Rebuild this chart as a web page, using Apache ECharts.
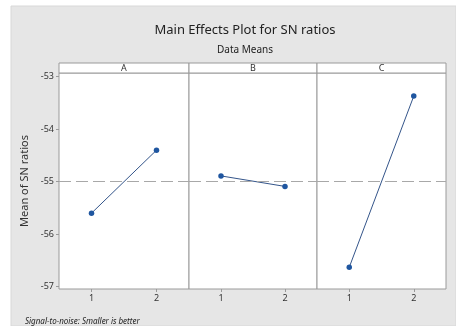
<!DOCTYPE html>
<html>
<head>
<meta charset="utf-8">
<script src="https://cdn.jsdelivr.net/npm/echarts@6/dist/echarts.min.js"></script>
<style>html,body{margin:0;padding:0;background:#fff;}#c{width:456px;height:326px;}</style>
</head>
<body>
<div id="c"></div>
<script>
const factors = ['A', 'B', 'C'];
const levels = ['1', '2'];
const snA = [-55.60, -54.40];
const snB = [-54.89, -55.09];
const snC = [-56.63, -53.37];
const grandMean = -55.0;
const yTicks = [-57, -56, -55, -54, -53];
const yRange = [-57.044, -52.93];

const seriesValues = [snA, snB, snC];
const FONT = 'Noto Sans';
const panels = [
  { left: 59, width: 130 },
  { left: 189, width: 128 },
  { left: 317, width: 129 }
];
const plotTop = 73, plotHeight = 216, headTop = 63, headHeight = 10;

const grid = [], xAxis = [], yAxis = [], series = [];
panels.forEach((p, i) => {
  grid.push({ left: p.left, width: p.width, top: plotTop, height: plotHeight, show: true,
    backgroundColor: '#fff', borderColor: '#9a9a9a', borderWidth: 1 });
});
panels.forEach((p, i) => {
  grid.push({ left: p.left, width: p.width, top: headTop, height: headHeight, show: true,
    backgroundColor: '#fff', borderColor: '#9a9a9a', borderWidth: 1 });
});
panels.forEach((p, i) => {
  xAxis.push({ type: 'category', gridIndex: i, data: levels, boundaryGap: true,
    axisLine: { show: false },
    axisTick: { show: true, alignWithLabel: true, length: 3, lineStyle: { color: '#9a9a9a' } },
    axisLabel: { color: '#333', fontFamily: FONT, fontSize: 9, margin: 5 },
    splitLine: { show: false } });
  yAxis.push({ type: 'value', gridIndex: i, min: yRange[0], max: yRange[1],
    name: i === 0 ? 'Mean of SN ratios' : '', nameLocation: 'middle', nameGap: 29,
    nameTextStyle: { color: '#333', fontFamily: FONT, fontSize: 11 },
    axisLine: { show: false },
    axisTick: { show: i === 0, length: 3, customValues: yTicks, lineStyle: { color: '#9a9a9a' } },
    axisLabel: { show: i === 0, customValues: yTicks, color: '#333', fontFamily: FONT, fontSize: 9, margin: 5 },
    splitLine: { show: false } });
});
factors.forEach((f, i) => {
  xAxis.push({ type: 'category', gridIndex: 3 + i, data: [f], position: 'top',
    axisLine: { show: false }, axisTick: { show: false },
    axisLabel: { inside: true, margin: 5, verticalAlign: 'middle', color: '#333', fontFamily: FONT, fontSize: 9 } });
  yAxis.push({ type: 'value', gridIndex: 3 + i, show: false });
});
seriesValues.forEach((vals, i) => {
  series.push({ type: 'line', xAxisIndex: i, yAxisIndex: i, data: vals,
    symbol: 'circle', symbolSize: 5.5, animation: false,
    itemStyle: { color: '#1f56a0' },
    lineStyle: { color: '#34558a', width: 1 },
    markLine: { silent: true, symbol: 'none', label: { show: false },
      lineStyle: { type: [12, 5], color: '#a8a8a8', width: 1 },
      data: [{ yAxis: grandMean }] } });
});

const chart = echarts.init(document.getElementById('c'));
chart.setOption({
  animation: false,
  backgroundColor: '#fff',
  graphic: [{ type: 'rect', shape: { x: 11, y: 6, width: 445, height: 320 },
    style: { fill: '#e6e6e6', stroke: '#d8d8d8' }, z: -10, silent: true }],
  title: [
    { text: 'Main Effects Plot for SN ratios', left: 240, top: 19, textAlign: 'center',
      textStyle: { fontFamily: FONT, fontSize: 13, fontWeight: 'normal', color: '#222' } },
    { text: 'Data Means', left: 240, top: 40, textAlign: 'center',
      textStyle: { fontFamily: FONT, fontSize: 10, fontWeight: 'normal', color: '#222' } },
    { text: 'Signal-to-noise: Smaller is better', left: 20, top: 313,
      textStyle: { fontFamily: FONT, fontSize: 8, fontStyle: 'italic', fontWeight: 'normal', color: '#222' } }
  ],
  grid, xAxis, yAxis, series
});
</script>
</body>
</html>
